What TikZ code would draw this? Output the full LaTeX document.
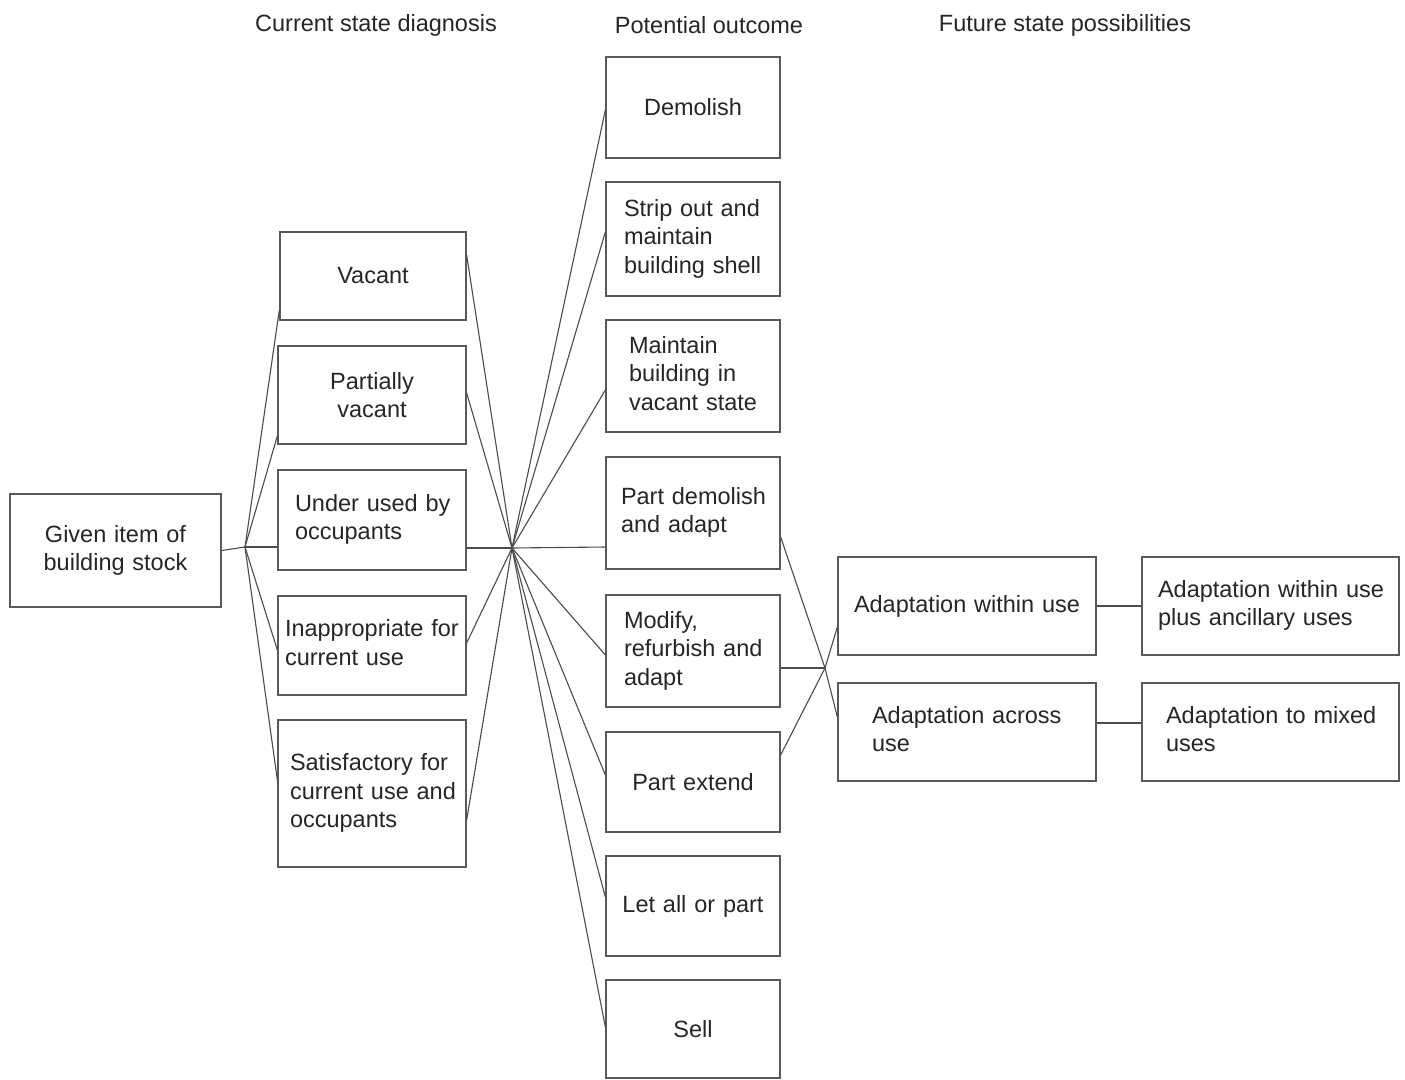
\documentclass[tikz,border=0pt]{standalone}
\usepackage{fontspec}
\setmainfont{Liberation Sans}
\newcommand\mylines[1]{\begin{tabular}{@{}l@{}}#1\end{tabular}}
\begin{document}
\begin{tikzpicture}[x=1pt,y=-1pt,
  txt/.style={font=\fontsize{23.5}{28.5}\selectfont, text=black!85},
  box/.style={txt, draw=black!65, line width=1.3pt, inner ysep=0pt},
  conn/.style={draw=black!70, line width=1.1pt}]
\fill[white] (0,0) rectangle (1405,1079);
\useasboundingbox (0,0) rectangle (1405,1079);
% titles
\node[txt] (t1) at (376,25) {Current state diagnosis};
\node[txt] (t2) at (709,25) {Potential outcome};
\node[txt] (t3) at (1065,25) {Future state possibilities};
% column 0
\node[box, text width=191pt, inner xsep=10pt, minimum height=113pt, align=center] (given) at (115.5,550.5) {Given item of\\building stock};
% column 1
\node[box, text width=166pt, inner xsep=10pt, minimum height=88pt, align=center] (vac) at (373,276) {Vacant};
\node[box, text width=168pt, inner xsep=10pt, minimum height=98pt, align=center] (pvac) at (372,395) {Partially\\vacant};
\node[box, text width=154pt, inner xsep=17pt, minimum height=100pt, align=left] (under) at (372,520) {\mylines{Under used by\\occupants}};
\node[box, text width=174pt, inner xsep=7pt, minimum height=99pt, align=left] (inapp) at (372,645.5) {\mylines{Inappropriate for\\current use}};
\node[box, text width=164pt, inner xsep=12pt, minimum height=147pt, align=left] (sat) at (372,793.5) {\mylines{Satisfactory for\\current use and\\occupants}};
% column 2
\node[box, text width=154pt, inner xsep=10pt, minimum height=101pt, align=center] (dem) at (693,107.5) {Demolish};
\node[box, text width=138pt, inner xsep=18pt, minimum height=114pt, align=left] (strip) at (693,239) {\mylines{Strip out and\\maintain\\building shell}};
\node[box, text width=128pt, inner xsep=23pt, minimum height=112pt, align=left] (maint) at (693,376) {\mylines{Maintain\\building in\\vacant state}};
\node[box, text width=144pt, inner xsep=15pt, minimum height=112pt, align=left] (pdem) at (693,513) {\mylines{Part demolish\\and adapt}};
\node[box, text width=138pt, inner xsep=18pt, minimum height=112pt, align=left] (mod) at (693,651) {\mylines{Modify,\\refurbish and\\adapt}};
\node[box, text width=154pt, inner xsep=10pt, minimum height=100pt, align=center] (pext) at (693,782) {Part extend};
\node[box, text width=154pt, inner xsep=10pt, minimum height=100pt, align=center] (let) at (693,906) {Let all or part};
\node[box, text width=154pt, inner xsep=10pt, minimum height=98pt, align=center] (sell) at (693,1029) {Sell};
% column 3
\node[box, text width=238pt, inner xsep=10pt, minimum height=98pt, align=center] (within) at (967,606) {Adaptation within use};
\node[box, text width=190pt, inner xsep=34pt, minimum height=98pt, align=left] (across) at (967,732) {\mylines{Adaptation across\\use}};
% column 4
\node[box, text width=225pt, inner xsep=16pt, minimum height=98pt, align=left] (anc) at (1270.5,606) {\mylines{Adaptation within use\\plus ancillary uses}};
\node[box, text width=209pt, inner xsep=24pt, minimum height=98pt, align=left] (mixed) at (1270.5,732) {\mylines{Adaptation to mixed\\uses}};
% hubs
\coordinate (hL) at (245,547);
\coordinate (hM) at (512,548);
\coordinate (hR) at (825,668);
% connectors
\draw[conn] (given.east) -- (hL);
\draw[conn] (hL) -- ([yshift=-34pt]vac.west);
\draw[conn] (hL) -- ([yshift=-41pt]pvac.west);
\draw[conn] (hL) -- ([yshift=-27pt]under.west);
\draw[conn] (hL) -- ([yshift=-4.5pt]inapp.west);
\draw[conn] (hL) -- ([yshift=13.5pt]sat.west);
\draw[conn] ([yshift=21pt]vac.east) -- (hM);
\draw[conn] ([yshift=2pt]pvac.east) -- (hM);
\draw[conn] ([yshift=-28pt]under.east) -- (hM);
\draw[conn] ([yshift=2.5pt]inapp.east) -- (hM);
\draw[conn] ([yshift=-26.5pt]sat.east) -- (hM);
\draw[conn] (hM) -- ([yshift=-2.5pt]dem.west);
\draw[conn] (hM) -- ([yshift=7pt]strip.west);
\draw[conn] (hM) -- ([yshift=-14pt]maint.west);
\draw[conn] (hM) -- ([yshift=-34pt]pdem.west);
\draw[conn] (hM) -- ([yshift=-4pt]mod.west);
\draw[conn] (hM) -- ([yshift=7pt]pext.west);
\draw[conn] (hM) -- ([yshift=9pt]let.west);
\draw[conn] (hM) -- ([yshift=2pt]sell.west);
\draw[conn] ([yshift=-24pt]pdem.east) -- (hR) -- ([yshift=15pt]across.west);
\draw[conn] ([yshift=27pt]pext.east) -- (hR) -- ([yshift=-21pt]within.west);
\draw[conn] ([yshift=-17pt]mod.east) -- (hR);
\draw[conn] (within.east) -- (anc.west);
\draw[conn] ([yshift=9pt]across.east) -- ([yshift=9pt]mixed.west);
\end{tikzpicture}
\end{document}
